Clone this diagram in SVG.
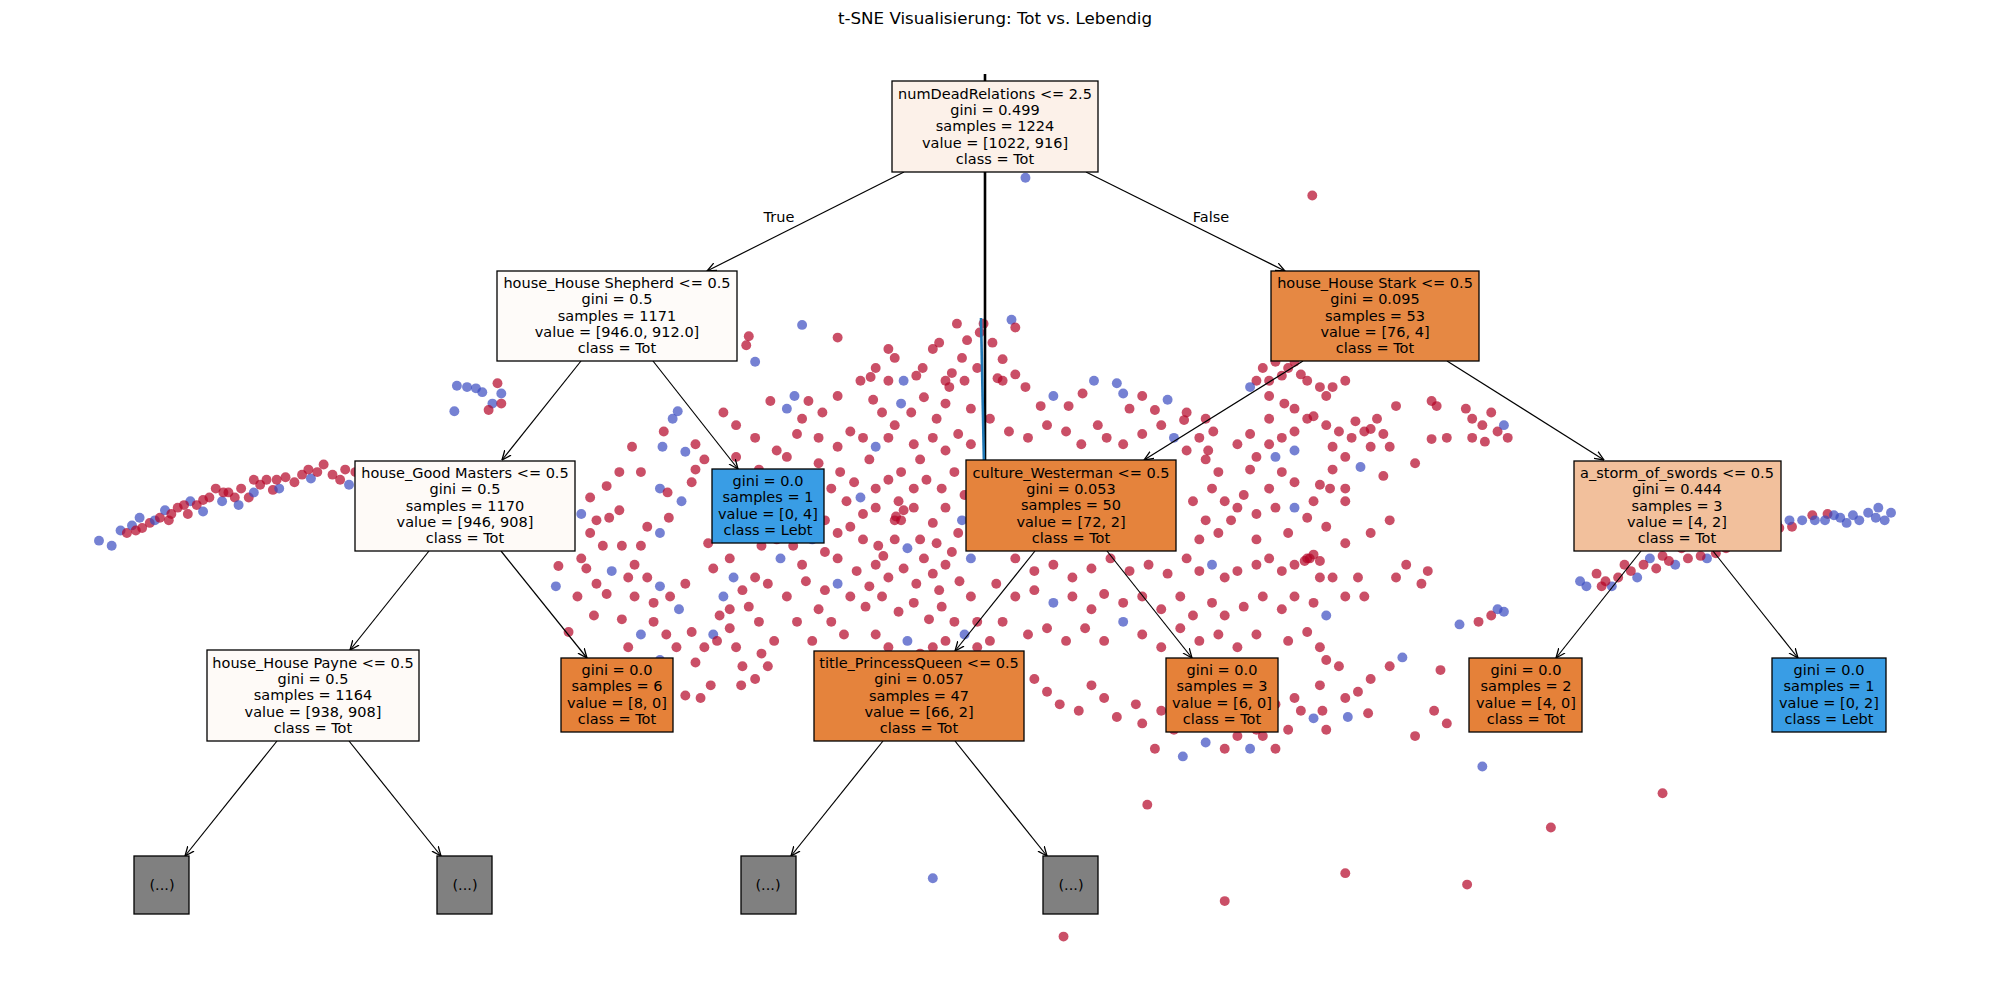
<svg xmlns="http://www.w3.org/2000/svg" width="1990" height="990" viewBox="0 0 1990 990">
<style>
.r{fill:#b40426;fill-opacity:0.7}
.b{fill:#3b4cc0;fill-opacity:0.7}
.box{stroke:#000;stroke-width:1.3}
.t{font-family:"DejaVu Sans",sans-serif;font-size:14.5px;fill:#000;text-anchor:middle}
.edge{stroke:#000;stroke-width:1.2;fill:none;marker-end:url(#ah)}
</style>
<defs>
<marker id="ah" viewBox="0 0 10 10" refX="9.5" refY="5" markerWidth="10" markerHeight="10" markerUnits="userSpaceOnUse" orient="auto">
<path d="M0,1 L9.5,5 L0,9" fill="none" stroke="#000" stroke-width="1.3"/>
</marker>
</defs>
<rect width="1990" height="990" fill="#fff"/>
<text x="995" y="24" style="font-family:'DejaVu Sans',sans-serif;font-size:16.7px;text-anchor:middle">t-SNE Visualisierung: Tot vs. Lebendig</text>
<g id="scatter" transform="scale(1.26913)">
<circle class="b" cx="78" cy="426" r="3.9"/><circle class="b" cx="88" cy="430" r="3.9"/><circle class="b" cx="95" cy="418" r="3.9"/><circle class="r" cx="100" cy="420" r="3.9"/><circle class="b" cx="104" cy="414" r="3.9"/><circle class="b" cx="110" cy="408" r="3.9"/><circle class="r" cx="112" cy="416" r="3.9"/><circle class="r" cx="118" cy="412" r="3.9"/><circle class="b" cx="122" cy="410" r="3.9"/><circle class="r" cx="126" cy="408" r="3.9"/><circle class="b" cx="130" cy="402" r="3.9"/><circle class="r" cx="135" cy="405" r="3.9"/><circle class="r" cx="140" cy="400" r="3.9"/><circle class="r" cx="148" cy="405" r="3.9"/><circle class="b" cx="150" cy="395" r="3.9"/><circle class="r" cx="155" cy="398" r="3.9"/><circle class="b" cx="160" cy="403" r="3.9"/><circle class="r" cx="165" cy="392" r="3.9"/><circle class="r" cx="170" cy="385" r="3.9"/><circle class="b" cx="175" cy="395" r="3.9"/><circle class="r" cx="180" cy="388" r="3.9"/><circle class="r" cx="185" cy="392" r="3.9"/><circle class="r" cx="190" cy="385" r="3.9"/><circle class="r" cx="196" cy="392" r="3.9"/><circle class="b" cx="200" cy="388" r="3.9"/><circle class="r" cx="205" cy="382" r="3.9"/><circle class="r" cx="210" cy="378" r="3.9"/><circle class="r" cx="215" cy="386" r="3.9"/><circle class="b" cx="220" cy="385" r="3.9"/><circle class="r" cx="225" cy="376" r="3.9"/><circle class="r" cx="232" cy="380" r="3.9"/><circle class="r" cx="238" cy="374" r="3.9"/><circle class="b" cx="245" cy="377" r="3.9"/><circle class="r" cx="250" cy="372" r="3.9"/><circle class="r" cx="255" cy="366" r="3.9"/><circle class="r" cx="262" cy="374" r="3.9"/><circle class="r" cx="268" cy="378" r="3.9"/><circle class="b" cx="275" cy="382" r="3.9"/><circle class="r" cx="280" cy="372" r="3.9"/><circle class="r" cx="285" cy="380" r="3.9"/><circle class="b" cx="290" cy="380" r="3.9"/><circle class="r" cx="296" cy="386" r="3.9"/><circle class="b" cx="300" cy="375" r="3.9"/>
<circle class="r" cx="107" cy="418" r="3.9"/><circle class="r" cx="133" cy="410" r="3.9"/><circle class="r" cx="145" cy="398" r="3.9"/><circle class="r" cx="160" cy="394" r="3.9"/><circle class="r" cx="176" cy="388" r="3.9"/><circle class="r" cx="200" cy="378" r="3.9"/><circle class="r" cx="218" cy="378" r="3.9"/><circle class="r" cx="243" cy="370" r="3.9"/><circle class="r" cx="272" cy="370" r="3.9"/><circle class="b" cx="188" cy="398" r="3.9"/>
<circle class="b" cx="360" cy="304" r="3.9"/><circle class="b" cx="368" cy="305" r="3.9"/><circle class="b" cx="375" cy="306" r="3.9"/><circle class="b" cx="380" cy="309" r="3.9"/><circle class="b" cx="388" cy="318" r="3.9"/><circle class="b" cx="395" cy="310" r="3.9"/><circle class="b" cx="358" cy="324" r="3.9"/><circle class="r" cx="392" cy="302" r="3.9"/><circle class="r" cx="395" cy="318" r="3.9"/><circle class="r" cx="385" cy="323" r="3.9"/>
<circle class="r" cx="590" cy="265" r="3.9"/><circle class="r" cx="588" cy="272" r="3.9"/><circle class="b" cx="595" cy="285" r="3.9"/><circle class="r" cx="570" cy="280" r="3.9"/><circle class="r" cx="545" cy="272" r="3.9"/><circle class="b" cx="632" cy="256" r="3.9"/><circle class="r" cx="660" cy="266" r="3.9"/><circle class="r" cx="700" cy="275" r="3.9"/><circle class="r" cx="705" cy="282" r="3.9"/><circle class="r" cx="690" cy="290" r="3.9"/><circle class="r" cx="686" cy="297" r="3.9"/><circle class="b" cx="712" cy="300" r="3.9"/><circle class="r" cx="722" cy="296" r="3.9"/><circle class="r" cx="735" cy="275" r="3.9"/><circle class="r" cx="740" cy="270" r="3.9"/><circle class="r" cx="754" cy="255" r="3.9"/><circle class="r" cx="762" cy="268" r="3.9"/><circle class="r" cx="758" cy="282" r="3.9"/><circle class="r" cx="772" cy="262" r="3.9"/><circle class="r" cx="775" cy="255" r="3.9"/><circle class="r" cx="782" cy="270" r="3.9"/><circle class="b" cx="797" cy="252" r="3.9"/><circle class="r" cx="800" cy="258" r="3.9"/><circle class="r" cx="790" cy="283" r="3.9"/><circle class="r" cx="786" cy="298" r="3.9"/><circle class="r" cx="770" cy="290" r="3.9"/><circle class="r" cx="745" cy="300" r="3.9"/><circle class="r" cx="750" cy="294" r="3.9"/><circle class="r" cx="727" cy="290" r="3.9"/>
<circle class="r" cx="607" cy="316" r="3.9"/><circle class="b" cx="620" cy="322" r="3.9"/><circle class="r" cx="632" cy="330" r="3.9"/><circle class="b" cx="626" cy="312" r="3.9"/><circle class="r" cx="637" cy="316" r="3.9"/><circle class="r" cx="648" cy="325" r="3.9"/><circle class="r" cx="660" cy="312" r="3.9"/><circle class="r" cx="678" cy="300" r="3.9"/><circle class="r" cx="688" cy="315" r="3.9"/><circle class="r" cx="695" cy="325" r="3.9"/><circle class="r" cx="700" cy="300" r="3.9"/><circle class="r" cx="705" cy="335" r="3.9"/><circle class="b" cx="710" cy="318" r="3.9"/><circle class="r" cx="718" cy="325" r="3.9"/><circle class="r" cx="728" cy="313" r="3.9"/><circle class="r" cx="738" cy="330" r="3.9"/><circle class="r" cx="745" cy="318" r="3.9"/><circle class="r" cx="748" cy="305" r="3.9"/><circle class="r" cx="760" cy="300" r="3.9"/><circle class="r" cx="765" cy="322" r="3.9"/><circle class="r" cx="790" cy="300" r="3.9"/><circle class="r" cx="800" cy="295" r="3.9"/><circle class="r" cx="808" cy="305" r="3.9"/><circle class="r" cx="820" cy="320" r="3.9"/><circle class="b" cx="830" cy="312" r="3.9"/><circle class="r" cx="842" cy="320" r="3.9"/><circle class="r" cx="853" cy="310" r="3.9"/><circle class="b" cx="862" cy="300" r="3.9"/><circle class="b" cx="880" cy="302" r="3.9"/><circle class="b" cx="885" cy="310" r="3.9"/><circle class="r" cx="890" cy="322" r="3.9"/><circle class="r" cx="900" cy="312" r="3.9"/><circle class="r" cx="910" cy="323" r="3.9"/><circle class="b" cx="920" cy="315" r="3.9"/><circle class="r" cx="935" cy="325" r="3.9"/><circle class="r" cx="933" cy="331" r="3.9"/><circle class="r" cx="945" cy="345" r="3.9"/><circle class="r" cx="952" cy="355" r="3.9"/><circle class="r" cx="956" cy="340" r="3.9"/><circle class="r" cx="950" cy="330" r="3.9"/>
<circle class="r" cx="498" cy="352" r="3.9"/><circle class="r" cx="523" cy="340" r="3.9"/><circle class="b" cx="522" cy="352" r="3.9"/><circle class="b" cx="530" cy="330" r="3.9"/><circle class="b" cx="534" cy="324" r="3.9"/><circle class="r" cx="505" cy="372" r="3.9"/><circle class="b" cx="520" cy="385" r="3.9"/><circle class="r" cx="526" cy="388" r="3.9"/><circle class="r" cx="488" cy="372" r="3.9"/><circle class="r" cx="478" cy="383" r="3.9"/><circle class="r" cx="465" cy="392" r="3.9"/><circle class="b" cx="448" cy="390" r="3.9"/><circle class="b" cx="458" cy="405" r="3.9"/><circle class="r" cx="465" cy="420" r="3.9"/><circle class="r" cx="470" cy="410" r="3.9"/><circle class="r" cx="480" cy="408" r="3.9"/><circle class="r" cx="488" cy="402" r="3.9"/><circle class="r" cx="475" cy="430" r="3.9"/><circle class="r" cx="458" cy="440" r="3.9"/><circle class="r" cx="462" cy="448" r="3.9"/><circle class="r" cx="440" cy="446" r="3.9"/><circle class="b" cx="438" cy="462" r="3.9"/><circle class="r" cx="470" cy="460" r="3.9"/><circle class="r" cx="455" cy="470" r="3.9"/><circle class="r" cx="468" cy="485" r="3.9"/><circle class="r" cx="448" cy="498" r="3.9"/><circle class="r" cx="478" cy="468" r="3.9"/><circle class="b" cx="482" cy="450" r="3.9"/><circle class="r" cx="500" cy="445" r="3.9"/><circle class="r" cx="505" cy="430" r="3.9"/><circle class="r" cx="510" cy="415" r="3.9"/><circle class="b" cx="520" cy="420" r="3.9"/><circle class="r" cx="527" cy="408" r="3.9"/><circle class="b" cx="537" cy="395" r="3.9"/><circle class="r" cx="545" cy="380" r="3.9"/><circle class="r" cx="548" cy="370" r="3.9"/><circle class="r" cx="555" cy="362" r="3.9"/><circle class="b" cx="540" cy="356" r="3.9"/><circle class="r" cx="548" cy="350" r="3.9"/><circle class="r" cx="500" cy="470" r="3.9"/><circle class="r" cx="510" cy="455" r="3.9"/><circle class="b" cx="520" cy="462" r="3.9"/><circle class="r" cx="528" cy="470" r="3.9"/><circle class="r" cx="540" cy="460" r="3.9"/><circle class="b" cx="535" cy="480" r="3.9"/><circle class="r" cx="515" cy="490" r="3.9"/><circle class="r" cx="525" cy="500" r="3.9"/><circle class="r" cx="533" cy="510" r="3.9"/><circle class="r" cx="545" cy="498" r="3.9"/><circle class="r" cx="548" cy="522" r="3.9"/><circle class="r" cx="555" cy="510" r="3.9"/><circle class="b" cx="562" cy="500" r="3.9"/><circle class="r" cx="567" cy="485" r="3.9"/><circle class="b" cx="570" cy="470" r="3.9"/><circle class="b" cx="578" cy="455" r="3.9"/><circle class="r" cx="585" cy="465" r="3.9"/><circle class="r" cx="590" cy="478" r="3.9"/><circle class="r" cx="560" cy="540" r="3.9"/><circle class="r" cx="540" cy="548" r="3.9"/><circle class="r" cx="552" cy="550" r="3.9"/><circle class="r" cx="575" cy="495" r="3.9"/><circle class="r" cx="580" cy="510" r="3.9"/><circle class="r" cx="585" cy="525" r="3.9"/><circle class="r" cx="584" cy="540" r="3.9"/><circle class="r" cx="595" cy="535" r="3.9"/><circle class="r" cx="600" cy="515" r="3.9"/><circle class="r" cx="605" cy="525" r="3.9"/><circle class="r" cx="610" cy="505" r="3.9"/><circle class="r" cx="598" cy="490" r="3.9"/><circle class="r" cx="575" cy="480" r="3.9"/><circle class="r" cx="565" cy="505" r="3.9"/><circle class="b" cx="505" cy="500" r="3.9"/><circle class="b" cx="520" cy="520" r="3.9"/><circle class="r" cx="495" cy="510" r="3.9"/><circle class="r" cx="490" cy="488" r="3.9"/><circle class="r" cx="515" cy="475" r="3.9"/>
<circle class="r" cx="612" cy="355" r="3.9"/><circle class="r" cx="628" cy="342" r="3.9"/><circle class="r" cx="645" cy="345" r="3.9"/><circle class="r" cx="660" cy="352" r="3.9"/><circle class="r" cx="670" cy="340" r="3.9"/><circle class="r" cx="680" cy="345" r="3.9"/><circle class="b" cx="690" cy="352" r="3.9"/><circle class="r" cx="700" cy="345" r="3.9"/><circle class="r" cx="720" cy="350" r="3.9"/><circle class="r" cx="735" cy="345" r="3.9"/><circle class="r" cx="745" cy="355" r="3.9"/><circle class="r" cx="755" cy="342" r="3.9"/><circle class="r" cx="765" cy="350" r="3.9"/><circle class="r" cx="662" cy="372" r="3.9"/><circle class="r" cx="673" cy="380" r="3.9"/><circle class="b" cx="678" cy="392" r="3.9"/><circle class="r" cx="690" cy="385" r="3.9"/><circle class="r" cx="700" cy="378" r="3.9"/><circle class="r" cx="710" cy="372" r="3.9"/><circle class="r" cx="720" cy="385" r="3.9"/><circle class="r" cx="730" cy="378" r="3.9"/><circle class="r" cx="742" cy="385" r="3.9"/><circle class="r" cx="752" cy="372" r="3.9"/><circle class="r" cx="760" cy="390" r="3.9"/><circle class="r" cx="680" cy="405" r="3.9"/><circle class="r" cx="690" cy="400" r="3.9"/><circle class="r" cx="705" cy="410" r="3.9"/><circle class="r" cx="712" cy="402" r="3.9"/><circle class="r" cx="708" cy="395" r="3.9"/><circle class="r" cx="720" cy="400" r="3.9"/><circle class="r" cx="735" cy="412" r="3.9"/><circle class="r" cx="745" cy="400" r="3.9"/><circle class="b" cx="758" cy="410" r="3.9"/><circle class="r" cx="660" cy="420" r="3.9"/><circle class="r" cx="670" cy="415" r="3.9"/><circle class="r" cx="680" cy="425" r="3.9"/><circle class="r" cx="692" cy="430" r="3.9"/><circle class="r" cx="705" cy="425" r="3.9"/><circle class="b" cx="715" cy="432" r="3.9"/><circle class="r" cx="725" cy="425" r="3.9"/><circle class="r" cx="738" cy="428" r="3.9"/><circle class="r" cx="750" cy="435" r="3.9"/><circle class="r" cx="755" cy="420" r="3.9"/><circle class="r" cx="660" cy="440" r="3.9"/><circle class="r" cx="675" cy="450" r="3.9"/><circle class="r" cx="690" cy="445" r="3.9"/><circle class="r" cx="700" cy="455" r="3.9"/><circle class="r" cx="712" cy="448" r="3.9"/><circle class="r" cx="722" cy="460" r="3.9"/><circle class="r" cx="735" cy="452" r="3.9"/><circle class="r" cx="745" cy="445" r="3.9"/><circle class="r" cx="756" cy="458" r="3.9"/><circle class="b" cx="660" cy="460" r="3.9"/><circle class="r" cx="670" cy="470" r="3.9"/><circle class="r" cx="682" cy="478" r="3.9"/><circle class="r" cx="695" cy="470" r="3.9"/><circle class="r" cx="708" cy="482" r="3.9"/><circle class="r" cx="720" cy="475" r="3.9"/><circle class="r" cx="732" cy="488" r="3.9"/><circle class="r" cx="742" cy="478" r="3.9"/><circle class="r" cx="752" cy="490" r="3.9"/><circle class="r" cx="620" cy="470" r="3.9"/><circle class="r" cx="635" cy="458" r="3.9"/><circle class="r" cx="645" cy="480" r="3.9"/><circle class="r" cx="628" cy="490" r="3.9"/><circle class="r" cx="640" cy="505" r="3.9"/><circle class="b" cx="615" cy="440" r="3.9"/><circle class="r" cx="625" cy="430" r="3.9"/><circle class="b" cx="640" cy="425" r="3.9"/><circle class="r" cx="650" cy="435" r="3.9"/><circle class="r" cx="600" cy="430" r="3.9"/><circle class="b" cx="610" cy="410" r="3.9"/><circle class="r" cx="622" cy="400" r="3.9"/><circle class="r" cx="640" cy="395" r="3.9"/><circle class="r" cx="650" cy="410" r="3.9"/><circle class="r" cx="605" cy="385" r="3.9"/><circle class="r" cx="615" cy="375" r="3.9"/><circle class="r" cx="630" cy="382" r="3.9"/><circle class="r" cx="645" cy="365" r="3.9"/><circle class="r" cx="595" cy="345" r="3.9"/><circle class="r" cx="580" cy="335" r="3.9"/><circle class="r" cx="580" cy="360" r="3.9"/><circle class="r" cx="570" cy="325" r="3.9"/><circle class="r" cx="590" cy="405" r="3.9"/><circle class="b" cx="585" cy="420" r="3.9"/><circle class="r" cx="575" cy="440" r="3.9"/><circle class="r" cx="595" cy="455" r="3.9"/><circle class="r" cx="605" cy="460" r="3.9"/><circle class="r" cx="655" cy="490" r="3.9"/><circle class="r" cx="665" cy="500" r="3.9"/><circle class="r" cx="690" cy="500" r="3.9"/><circle class="r" cx="700" cy="510" r="3.9"/><circle class="b" cx="715" cy="505" r="3.9"/><circle class="r" cx="725" cy="515" r="3.9"/><circle class="r" cx="735" cy="510" r="3.9"/><circle class="r" cx="745" cy="505" r="3.9"/><circle class="b" cx="760" cy="500" r="3.9"/><circle class="r" cx="770" cy="510" r="3.9"/><circle class="r" cx="780" cy="505" r="3.9"/>
<circle class="r" cx="706" cy="407" r="3.9"/><circle class="r" cx="710" cy="410" r="3.9"/><circle class="r" cx="667" cy="395" r="3.9"/><circle class="r" cx="685" cy="362" r="3.9"/><circle class="r" cx="725" cy="362" r="3.9"/><circle class="r" cx="696" cy="438" r="3.9"/><circle class="r" cx="728" cy="440" r="3.9"/><circle class="r" cx="740" cy="465" r="3.9"/><circle class="r" cx="685" cy="462" r="3.9"/><circle class="r" cx="650" cy="465" r="3.9"/><circle class="r" cx="632" cy="445" r="3.9"/><circle class="r" cx="655" cy="385" r="3.9"/><circle class="r" cx="620" cy="360" r="3.9"/><circle class="r" cx="598" cy="370" r="3.9"/><circle class="r" cx="612" cy="425" r="3.9"/><circle class="r" cx="562" cy="448" r="3.9"/><circle class="r" cx="558" cy="428" r="3.9"/><circle class="r" cx="490" cy="430" r="3.9"/><circle class="r" cx="495" cy="455" r="3.9"/><circle class="r" cx="765" cy="470" r="3.9"/><circle class="r" cx="770" cy="490" r="3.9"/><circle class="b" cx="765" cy="440" r="3.9"/>
<circle class="r" cx="780" cy="330" r="3.9"/><circle class="r" cx="795" cy="340" r="3.9"/><circle class="r" cx="810" cy="345" r="3.9"/><circle class="r" cx="825" cy="335" r="3.9"/><circle class="r" cx="840" cy="340" r="3.9"/><circle class="r" cx="852" cy="350" r="3.9"/><circle class="r" cx="865" cy="335" r="3.9"/><circle class="r" cx="872" cy="345" r="3.9"/><circle class="r" cx="885" cy="350" r="3.9"/><circle class="r" cx="900" cy="342" r="3.9"/><circle class="r" cx="915" cy="335" r="3.9"/><circle class="b" cx="925" cy="345" r="3.9"/><circle class="r" cx="935" cy="355" r="3.9"/><circle class="r" cx="950" cy="362" r="3.9"/><circle class="r" cx="960" cy="372" r="3.9"/><circle class="r" cx="955" cy="385" r="3.9"/><circle class="r" cx="940" cy="395" r="3.9"/><circle class="r" cx="950" cy="410" r="3.9"/><circle class="r" cx="945" cy="425" r="3.9"/><circle class="r" cx="960" cy="420" r="3.9"/><circle class="r" cx="970" cy="410" r="3.9"/><circle class="r" cx="975" cy="400" r="3.9"/><circle class="r" cx="980" cy="390" r="3.9"/><circle class="r" cx="985" cy="370" r="3.9"/><circle class="r" cx="990" cy="360" r="3.9"/><circle class="r" cx="1000" cy="350" r="3.9"/><circle class="r" cx="1010" cy="345" r="3.9"/><circle class="r" cx="1020" cy="340" r="3.9"/><circle class="r" cx="1030" cy="330" r="3.9"/><circle class="r" cx="1045" cy="335" r="3.9"/><circle class="r" cx="1055" cy="340" r="3.9"/><circle class="r" cx="1068" cy="332" r="3.9"/><circle class="r" cx="1075" cy="340" r="3.9"/><circle class="r" cx="1080" cy="352" r="3.9"/><circle class="r" cx="1090" cy="342" r="3.9"/><circle class="r" cx="1085" cy="330" r="3.9"/><circle class="r" cx="1060" cy="360" r="3.9"/><circle class="r" cx="1050" cy="370" r="3.9"/><circle class="r" cx="1040" cy="382" r="3.9"/><circle class="r" cx="1035" cy="395" r="3.9"/><circle class="r" cx="1020" cy="380" r="3.9"/><circle class="r" cx="1010" cy="372" r="3.9"/><circle class="r" cx="1000" cy="385" r="3.9"/><circle class="r" cx="1005" cy="400" r="3.9"/><circle class="r" cx="990" cy="405" r="3.9"/><circle class="b" cx="1020" cy="400" r="3.9"/><circle class="r" cx="1030" cy="408" r="3.9"/><circle class="r" cx="1048" cy="385" r="3.9"/><circle class="r" cx="1060" cy="385" r="3.9"/><circle class="b" cx="1072" cy="368" r="3.9"/><circle class="r" cx="1050" cy="352" r="3.9"/><circle class="b" cx="1020" cy="355" r="3.9"/><circle class="b" cx="1005" cy="360" r="3.9"/><circle class="r" cx="1012" cy="318" r="3.9"/><circle class="r" cx="1020" cy="322" r="3.9"/><circle class="r" cx="1035" cy="328" r="3.9"/><circle class="r" cx="1000" cy="330" r="3.9"/><circle class="r" cx="985" cy="342" r="3.9"/><circle class="r" cx="975" cy="350" r="3.9"/><circle class="r" cx="1128" cy="316" r="3.9"/><circle class="r" cx="1132" cy="320" r="3.9"/><circle class="r" cx="1155" cy="322" r="3.9"/><circle class="r" cx="1160" cy="330" r="3.9"/><circle class="r" cx="1168" cy="335" r="3.9"/><circle class="r" cx="1175" cy="325" r="3.9"/><circle class="r" cx="1180" cy="340" r="3.9"/><circle class="r" cx="1188" cy="345" r="3.9"/><circle class="r" cx="1140" cy="345" r="3.9"/><circle class="r" cx="1128" cy="346" r="3.9"/><circle class="r" cx="1160" cy="345" r="3.9"/><circle class="r" cx="1170" cy="348" r="3.9"/><circle class="b" cx="1185" cy="335" r="3.9"/><circle class="r" cx="1100" cy="320" r="3.9"/><circle class="r" cx="1095" cy="352" r="3.9"/>
<circle class="r" cx="1032" cy="440" r="3.9"/><circle class="r" cx="1035" cy="437" r="3.9"/><circle class="r" cx="1028" cy="442" r="3.9"/><circle class="r" cx="1040" cy="442" r="3.9"/><circle class="r" cx="1080" cy="338" r="3.9"/><circle class="r" cx="1065" cy="345" r="3.9"/><circle class="r" cx="1015" cy="420" r="3.9"/><circle class="r" cx="990" cy="425" r="3.9"/><circle class="r" cx="965" cy="395" r="3.9"/><circle class="r" cx="1045" cy="415" r="3.9"/><circle class="r" cx="1060" cy="428" r="3.9"/>
<circle class="r" cx="995" cy="290" r="3.9"/><circle class="r" cx="1000" cy="300" r="3.9"/><circle class="r" cx="1005" cy="285" r="3.9"/><circle class="r" cx="1010" cy="296" r="3.9"/><circle class="r" cx="1015" cy="290" r="3.9"/><circle class="r" cx="1020" cy="285" r="3.9"/><circle class="r" cx="1025" cy="295" r="3.9"/><circle class="r" cx="990" cy="300" r="3.9"/><circle class="b" cx="985" cy="305" r="3.9"/><circle class="r" cx="1000" cy="312" r="3.9"/><circle class="r" cx="1030" cy="300" r="3.9"/><circle class="r" cx="1040" cy="305" r="3.9"/><circle class="r" cx="1045" cy="312" r="3.9"/><circle class="r" cx="1050" cy="305" r="3.9"/><circle class="r" cx="1060" cy="300" r="3.9"/>
<circle class="r" cx="800" cy="440" r="3.9"/><circle class="r" cx="815" cy="450" r="3.9"/><circle class="r" cx="830" cy="445" r="3.9"/><circle class="r" cx="845" cy="455" r="3.9"/><circle class="r" cx="860" cy="448" r="3.9"/><circle class="r" cx="875" cy="440" r="3.9"/><circle class="r" cx="890" cy="450" r="3.9"/><circle class="r" cx="905" cy="445" r="3.9"/><circle class="r" cx="920" cy="452" r="3.9"/><circle class="r" cx="935" cy="440" r="3.9"/><circle class="r" cx="945" cy="450" r="3.9"/><circle class="b" cx="955" cy="445" r="3.9"/><circle class="r" cx="965" cy="455" r="3.9"/><circle class="r" cx="975" cy="450" r="3.9"/><circle class="r" cx="990" cy="445" r="3.9"/><circle class="r" cx="1000" cy="440" r="3.9"/><circle class="r" cx="1010" cy="450" r="3.9"/><circle class="r" cx="1020" cy="445" r="3.9"/><circle class="r" cx="1030" cy="440" r="3.9"/><circle class="r" cx="1040" cy="455" r="3.9"/><circle class="r" cx="785" cy="460" r="3.9"/><circle class="r" cx="800" cy="470" r="3.9"/><circle class="r" cx="815" cy="465" r="3.9"/><circle class="b" cx="830" cy="475" r="3.9"/><circle class="r" cx="845" cy="470" r="3.9"/><circle class="r" cx="860" cy="480" r="3.9"/><circle class="r" cx="870" cy="468" r="3.9"/><circle class="r" cx="885" cy="475" r="3.9"/><circle class="r" cx="900" cy="470" r="3.9"/><circle class="r" cx="915" cy="480" r="3.9"/><circle class="r" cx="930" cy="470" r="3.9"/><circle class="r" cx="940" cy="485" r="3.9"/><circle class="r" cx="955" cy="475" r="3.9"/><circle class="r" cx="965" cy="485" r="3.9"/><circle class="r" cx="980" cy="478" r="3.9"/><circle class="r" cx="995" cy="470" r="3.9"/><circle class="r" cx="1010" cy="480" r="3.9"/><circle class="r" cx="1020" cy="470" r="3.9"/><circle class="r" cx="1035" cy="475" r="3.9"/><circle class="b" cx="1045" cy="485" r="3.9"/><circle class="r" cx="790" cy="490" r="3.9"/><circle class="r" cx="810" cy="500" r="3.9"/><circle class="r" cx="825" cy="495" r="3.9"/><circle class="r" cx="840" cy="505" r="3.9"/><circle class="r" cx="855" cy="495" r="3.9"/><circle class="r" cx="870" cy="505" r="3.9"/><circle class="b" cx="885" cy="490" r="3.9"/><circle class="r" cx="900" cy="500" r="3.9"/><circle class="r" cx="915" cy="510" r="3.9"/><circle class="r" cx="930" cy="495" r="3.9"/><circle class="r" cx="945" cy="505" r="3.9"/><circle class="r" cx="960" cy="500" r="3.9"/><circle class="r" cx="975" cy="510" r="3.9"/><circle class="r" cx="990" cy="500" r="3.9"/><circle class="r" cx="1015" cy="505" r="3.9"/><circle class="r" cx="1030" cy="498" r="3.9"/><circle class="r" cx="1040" cy="510" r="3.9"/><circle class="r" cx="1045" cy="520" r="3.9"/><circle class="r" cx="1055" cy="525" r="3.9"/><circle class="r" cx="1040" cy="540" r="3.9"/><circle class="r" cx="1042" cy="560" r="3.9"/><circle class="b" cx="1035" cy="566" r="3.9"/><circle class="r" cx="1015" cy="575" r="3.9"/><circle class="r" cx="1020" cy="550" r="3.9"/><circle class="r" cx="1025" cy="560" r="3.9"/><circle class="r" cx="1005" cy="555" r="3.9"/><circle class="r" cx="995" cy="580" r="3.9"/><circle class="r" cx="990" cy="575" r="3.9"/><circle class="b" cx="985" cy="590" r="3.9"/><circle class="r" cx="965" cy="590" r="3.9"/><circle class="b" cx="950" cy="585" r="3.9"/><circle class="r" cx="940" cy="570" r="3.9"/><circle class="b" cx="932" cy="596" r="3.9"/><circle class="r" cx="925" cy="575" r="3.9"/><circle class="r" cx="910" cy="590" r="3.9"/><circle class="r" cx="895" cy="555" r="3.9"/><circle class="r" cx="880" cy="565" r="3.9"/><circle class="r" cx="870" cy="550" r="3.9"/><circle class="r" cx="860" cy="540" r="3.9"/><circle class="r" cx="850" cy="560" r="3.9"/><circle class="r" cx="835" cy="555" r="3.9"/><circle class="r" cx="825" cy="545" r="3.9"/><circle class="r" cx="815" cy="535" r="3.9"/><circle class="r" cx="900" cy="570" r="3.9"/><circle class="r" cx="915" cy="560" r="3.9"/><circle class="b" cx="960" cy="565" r="3.9"/><circle class="r" cx="975" cy="580" r="3.9"/><circle class="r" cx="1005" cy="590" r="3.9"/>
<circle class="r" cx="1115" cy="365" r="3.9"/><circle class="r" cx="1090" cy="375" r="3.9"/><circle class="r" cx="1060" cy="395" r="3.9"/><circle class="r" cx="1080" cy="420" r="3.9"/><circle class="r" cx="1095" cy="410" r="3.9"/><circle class="r" cx="1070" cy="455" r="3.9"/><circle class="r" cx="1100" cy="455" r="3.9"/><circle class="r" cx="1108" cy="445" r="3.9"/><circle class="r" cx="1120" cy="460" r="3.9"/><circle class="r" cx="1125" cy="450" r="3.9"/><circle class="r" cx="1050" cy="455" r="3.9"/><circle class="r" cx="1060" cy="470" r="3.9"/><circle class="r" cx="1075" cy="470" r="3.9"/><circle class="b" cx="1150" cy="492" r="3.9"/><circle class="r" cx="1165" cy="490" r="3.9"/><circle class="r" cx="1175" cy="485" r="3.9"/><circle class="b" cx="1180" cy="480" r="3.9"/><circle class="b" cx="1185" cy="482" r="3.9"/><circle class="r" cx="1135" cy="528" r="3.9"/><circle class="b" cx="1105" cy="518" r="3.9"/><circle class="r" cx="1095" cy="525" r="3.9"/><circle class="r" cx="1080" cy="535" r="3.9"/><circle class="r" cx="1070" cy="545" r="3.9"/><circle class="r" cx="1060" cy="550" r="3.9"/><circle class="r" cx="1078" cy="562" r="3.9"/><circle class="r" cx="1045" cy="575" r="3.9"/><circle class="b" cx="1062" cy="565" r="3.9"/>
<circle class="b" cx="1490" cy="404" r="3.9"/><circle class="b" cx="1485" cy="410" r="3.9"/><circle class="b" cx="1480" cy="400" r="3.9"/><circle class="b" cx="1478" cy="408" r="3.9"/><circle class="b" cx="1472" cy="404" r="3.9"/><circle class="b" cx="1465" cy="410" r="3.9"/><circle class="b" cx="1460" cy="406" r="3.9"/><circle class="b" cx="1455" cy="412" r="3.9"/><circle class="b" cx="1450" cy="408" r="3.9"/><circle class="r" cx="1440" cy="405" r="3.9"/><circle class="b" cx="1445" cy="406" r="3.9"/><circle class="b" cx="1438" cy="410" r="3.9"/><circle class="r" cx="1428" cy="406" r="3.9"/><circle class="b" cx="1430" cy="410" r="3.9"/><circle class="b" cx="1420" cy="410" r="3.9"/><circle class="r" cx="1412" cy="415" r="3.9"/><circle class="b" cx="1410" cy="410" r="3.9"/><circle class="r" cx="1402" cy="416" r="3.9"/><circle class="b" cx="1400" cy="412" r="3.9"/><circle class="b" cx="1395" cy="408" r="3.9"/><circle class="r" cx="1390" cy="418" r="3.9"/><circle class="b" cx="1385" cy="420" r="3.9"/><circle class="r" cx="1380" cy="425" r="3.9"/><circle class="b" cx="1375" cy="428" r="3.9"/><circle class="r" cx="1368" cy="430" r="3.9"/><circle class="r" cx="1360" cy="432" r="3.9"/><circle class="r" cx="1352" cy="436" r="3.9"/><circle class="b" cx="1345" cy="440" r="3.9"/><circle class="r" cx="1340" cy="438" r="3.9"/><circle class="r" cx="1335" cy="428" r="3.9"/><circle class="r" cx="1330" cy="440" r="3.9"/><circle class="r" cx="1325" cy="432" r="3.9"/><circle class="b" cx="1320" cy="445" r="3.9"/><circle class="r" cx="1315" cy="442" r="3.9"/><circle class="r" cx="1310" cy="438" r="3.9"/><circle class="r" cx="1305" cy="448" r="3.9"/><circle class="b" cx="1300" cy="440" r="3.9"/><circle class="r" cx="1295" cy="445" r="3.9"/><circle class="b" cx="1290" cy="455" r="3.9"/><circle class="r" cx="1285" cy="450" r="3.9"/><circle class="r" cx="1280" cy="445" r="3.9"/><circle class="r" cx="1275" cy="455" r="3.9"/><circle class="b" cx="1270" cy="462" r="3.9"/><circle class="r" cx="1265" cy="458" r="3.9"/><circle class="r" cx="1262" cy="462" r="3.9"/><circle class="r" cx="1258" cy="452" r="3.9"/><circle class="b" cx="1250" cy="462" r="3.9"/><circle class="b" cx="1245" cy="458" r="3.9"/>
<circle class="r" cx="904" cy="634" r="3.9"/><circle class="r" cx="1060" cy="688" r="3.9"/><circle class="r" cx="1156" cy="697" r="3.9"/><circle class="r" cx="1222" cy="652" r="3.9"/><circle class="r" cx="1310" cy="625" r="3.9"/><circle class="b" cx="1168" cy="604" r="3.9"/><circle class="r" cx="965" cy="710" r="3.9"/><circle class="r" cx="838" cy="738" r="3.9"/><circle class="b" cx="735" cy="692" r="3.9"/><circle class="r" cx="1034" cy="154" r="3.9"/><circle class="b" cx="808" cy="140" r="3.9"/><circle class="r" cx="1130" cy="560" r="3.9"/><circle class="r" cx="1140" cy="570" r="3.9"/><circle class="r" cx="1115" cy="580" r="3.9"/>
</g>
<g id="connectors">
<line x1="985" y1="74" x2="985" y2="468" stroke="#000" stroke-width="2.6"/>
<line x1="981" y1="318" x2="984" y2="466" stroke="#1f77b4" stroke-width="2.6"/>
<line class="edge" x1="904" y1="172" x2="707" y2="271"/>
<line class="edge" x1="1086" y1="172" x2="1285" y2="271"/>
<line class="edge" x1="581" y1="361" x2="502" y2="460"/>
<line class="edge" x1="653" y1="361" x2="738" y2="469"/>
<line class="edge" x1="1303" y1="361" x2="1144" y2="460"/>
<line class="edge" x1="1447" y1="361" x2="1604" y2="460"/>
<line class="edge" x1="429" y1="551" x2="350" y2="650"/>
<line class="edge" x1="501" y1="551" x2="587" y2="658"/>
<line class="edge" x1="1035" y1="551" x2="955" y2="651"/>
<line class="edge" x1="1107" y1="551" x2="1192" y2="658"/>
<line class="edge" x1="1641" y1="551" x2="1556" y2="658"/>
<line class="edge" x1="1713" y1="551" x2="1798" y2="658"/>
<line class="edge" x1="277" y1="741" x2="185" y2="856"/>
<line class="edge" x1="349" y1="741" x2="441" y2="856"/>
<line class="edge" x1="883" y1="741" x2="791" y2="856"/>
<line class="edge" x1="955" y1="741" x2="1047" y2="856"/>
<text class="t" x="779" y="222">True</text>
<text class="t" x="1211" y="222">False</text>
</g>
<g id="n0"><rect class="box" x="892" y="81" width="206" height="91" fill="#fcf1e9"/>
<text class="t"><tspan x="995" y="99">numDeadRelations &lt;= 2.5</tspan><tspan x="995" y="115">gini = 0.499</tspan><tspan x="995" y="131">samples = 1224</tspan><tspan x="995" y="148">value = [1022, 916]</tspan><tspan x="995" y="164">class = Tot</tspan></text></g>
<g id="n1"><rect class="box" x="497" y="271" width="240" height="90" fill="#fefbf9"/>
<text class="t"><tspan x="617" y="288">house_House Shepherd &lt;= 0.5</tspan><tspan x="617" y="304">gini = 0.5</tspan><tspan x="617" y="321">samples = 1171</tspan><tspan x="617" y="337">value = [946.0, 912.0]</tspan><tspan x="617" y="353">class = Tot</tspan></text></g>
<g id="n2"><rect class="box" x="1271" y="271" width="208" height="90" fill="#e68843"/>
<text class="t"><tspan x="1375" y="288">house_House Stark &lt;= 0.5</tspan><tspan x="1375" y="304">gini = 0.095</tspan><tspan x="1375" y="321">samples = 53</tspan><tspan x="1375" y="337">value = [76, 4]</tspan><tspan x="1375" y="353">class = Tot</tspan></text></g>
<g id="n3"><rect class="box" x="355" y="461" width="220" height="90" fill="#fefaf7"/>
<text class="t"><tspan x="465" y="478">house_Good Masters &lt;= 0.5</tspan><tspan x="465" y="494">gini = 0.5</tspan><tspan x="465" y="511">samples = 1170</tspan><tspan x="465" y="527">value = [946, 908]</tspan><tspan x="465" y="543">class = Tot</tspan></text></g>
<g id="n4"><rect class="box" x="712" y="469" width="112" height="74" fill="#399de5"/>
<text class="t"><tspan x="768" y="486">gini = 0.0</tspan><tspan x="768" y="502">samples = 1</tspan><tspan x="768" y="519">value = [0, 4]</tspan><tspan x="768" y="535">class = Lebt</tspan></text></g>
<g id="n5"><rect class="box" x="966" y="460" width="210" height="91" fill="#e5833c"/>
<text class="t"><tspan x="1071" y="478">culture_Westerman &lt;= 0.5</tspan><tspan x="1071" y="494">gini = 0.053</tspan><tspan x="1071" y="510">samples = 50</tspan><tspan x="1071" y="527">value = [72, 2]</tspan><tspan x="1071" y="543">class = Tot</tspan></text></g>
<g id="n6"><rect class="box" x="1574" y="461" width="207" height="90" fill="#f2c09c"/>
<text class="t"><tspan x="1677" y="478">a_storm_of_swords &lt;= 0.5</tspan><tspan x="1677" y="494">gini = 0.444</tspan><tspan x="1677" y="511">samples = 3</tspan><tspan x="1677" y="527">value = [4, 2]</tspan><tspan x="1677" y="543">class = Tot</tspan></text></g>
<g id="n7"><rect class="box" x="207" y="650" width="212" height="91" fill="#fefaf7"/>
<text class="t"><tspan x="313" y="668">house_House Payne &lt;= 0.5</tspan><tspan x="313" y="684">gini = 0.5</tspan><tspan x="313" y="700">samples = 1164</tspan><tspan x="313" y="717">value = [938, 908]</tspan><tspan x="313" y="733">class = Tot</tspan></text></g>
<g id="n8"><rect class="box" x="561" y="658" width="112" height="74" fill="#e58139"/>
<text class="t"><tspan x="617" y="675">gini = 0.0</tspan><tspan x="617" y="691">samples = 6</tspan><tspan x="617" y="708">value = [8, 0]</tspan><tspan x="617" y="724">class = Tot</tspan></text></g>
<g id="n9"><rect class="box" x="814" y="651" width="210" height="90" fill="#e5833c"/>
<text class="t"><tspan x="919" y="668">title_PrincessQueen &lt;= 0.5</tspan><tspan x="919" y="684">gini = 0.057</tspan><tspan x="919" y="701">samples = 47</tspan><tspan x="919" y="717">value = [66, 2]</tspan><tspan x="919" y="733">class = Tot</tspan></text></g>
<g id="n10"><rect class="box" x="1166" y="658" width="112" height="74" fill="#e58139"/>
<text class="t"><tspan x="1222" y="675">gini = 0.0</tspan><tspan x="1222" y="691">samples = 3</tspan><tspan x="1222" y="708">value = [6, 0]</tspan><tspan x="1222" y="724">class = Tot</tspan></text></g>
<g id="n11"><rect class="box" x="1469" y="658" width="113" height="74" fill="#e58139"/>
<text class="t"><tspan x="1526" y="675">gini = 0.0</tspan><tspan x="1526" y="691">samples = 2</tspan><tspan x="1526" y="708">value = [4, 0]</tspan><tspan x="1526" y="724">class = Tot</tspan></text></g>
<g id="n12"><rect class="box" x="1772" y="658" width="114" height="74" fill="#399de5"/>
<text class="t"><tspan x="1829" y="675">gini = 0.0</tspan><tspan x="1829" y="691">samples = 1</tspan><tspan x="1829" y="708">value = [0, 2]</tspan><tspan x="1829" y="724">class = Lebt</tspan></text></g>
<g id="n13"><rect class="box" x="134" y="856" width="55" height="58" fill="#808080"/><text class="t" x="162" y="890">(...)</text></g>
<g id="n14"><rect class="box" x="437" y="856" width="55" height="58" fill="#808080"/><text class="t" x="465" y="890">(...)</text></g>
<g id="n15"><rect class="box" x="741" y="856" width="55" height="58" fill="#808080"/><text class="t" x="768" y="890">(...)</text></g>
<g id="n16"><rect class="box" x="1043" y="856" width="55" height="58" fill="#808080"/><text class="t" x="1071" y="890">(...)</text></g>
</svg>
